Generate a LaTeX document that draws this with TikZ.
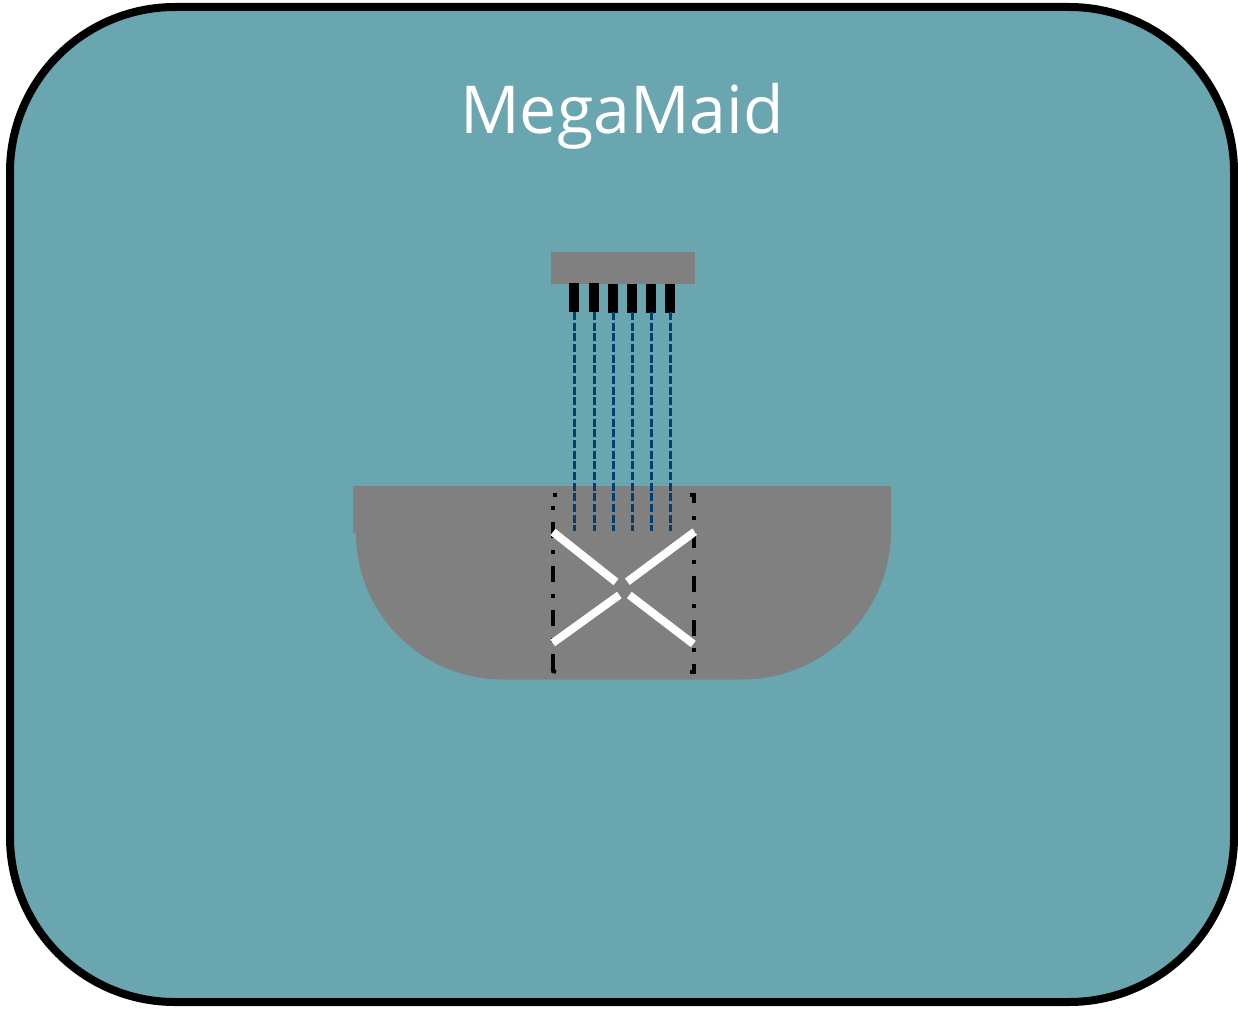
\documentclass[tikz,border=0pt]{standalone}
\usepackage{fontspec}
\setmainfont{Open Sans}
\definecolor{panelteal}{HTML}{6AA6AF}
\definecolor{bodygray}{HTML}{808080}
\definecolor{beamblue}{HTML}{003F73}
\tikzset{
  panel/.style={draw=black,line width=6pt,fill=panelteal,rounded corners=123.75pt},
  grayshape/.style={fill=bodygray,draw=none},
  nozzle/.style={fill=black,draw=none},
  beam/.style={draw=beamblue,line width=2.25pt,dash pattern=on 6pt off 2pt},
  chamber/.style={draw=black,line width=3pt,dash pattern=on 3pt off 9pt on 12pt off 9pt},
  chamberend/.style={draw=black,line width=3pt},
  mirror/.style={draw=white,line width=6pt},
  titletext/.style={text=white,font=\fontsize{49.6}{60}\selectfont,inner sep=0pt,anchor=base}
}
\begin{document}
\begin{tikzpicture}[x=0.75pt,y=-0.75pt]
\useasboundingbox (0,0) rectangle (1238,1009);
\draw[panel] (10,7) rectangle (1234,1002);
\node[titletext] (title) at (622,134) {MegaMaid};
% top bar
\fill[grayshape] (550.5,252) rectangle (694.5,284);
% bowl
\fill[grayshape] (353,486) -- (891,486) -- (891,530)
  arc[x radius=149,y radius=149.5,start angle=0,end angle=90]
  -- (503,679.5) arc[x radius=147,y radius=146.5,start angle=90,end angle=180]
  -- (353,533) -- cycle;
% nozzles
\foreach \x/\t in {569/283,589/283,608/284,627/284,646/284,665/284}
  \fill[nozzle] (\x,\t) rectangle ++(10,29);
% beams
\foreach \x in {574.5,594.5,613.5,632.2,651.8,670.8}
  \draw[beam] (\x,312) -- (\x,531);
% chamber left
\draw[chamberend] (555,493) -- (555,497);
\draw[chamber] (552.7,506) -- (552.7,670);
\draw[chamberend] (552.7,668) .. controls (552.7,671) and (553,672) .. (556,672);
% chamber right
\draw[chamberend] (690,495) -- (693.7,495) -- (693.7,503);
\draw[chamber] (693.7,516) -- (693.7,672);
\draw[chamberend] (693.7,664) -- (693.7,672) -- (690,672);
% mirrors
\draw[mirror] (553,532) -- (616,582);
\draw[mirror] (552.7,643) -- (619.3,595);
\draw[mirror] (694.7,531.7) -- (627.3,581.7);
\draw[mirror] (693.3,644) -- (629.3,595);
\end{tikzpicture}
\end{document}
